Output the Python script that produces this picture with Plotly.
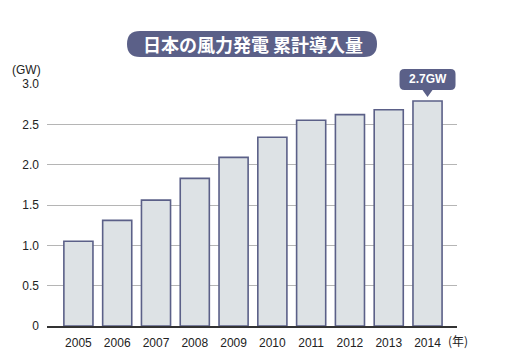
import plotly.graph_objects as go

years = ["2005", "2006", "2007", "2008", "2009", "2010", "2011", "2012", "2013", "2014"]
capacity_gw = [1.05, 1.31, 1.56, 1.83, 2.09, 2.34, 2.55, 2.62, 2.68, 2.79]
ytick_vals = [0, 0.5, 1.0, 1.5, 2.0, 2.5, 3.0]
ytick_text = ["0", "0.5", "1.0", "1.5", "2.0", "2.5", "3.0"]
title_text = "日本の風力発電 累計導入量"
callout_text = "2.7GW"

W, H = 505, 353
L, R, T, B = 47, 48, 84, 27
PW, PH = W - L - R, H - T - B
XR = [-0.81, len(years) - 1 + 0.76]
YR = [0, 3.0]
NAVY = "#5b6088"

def px2paper(px, py):
    return (px - L) / PW, (H - B - py) / PH

def rounded_rect(x0, y0, x1, y1, r, tip=None):
    def P(x, y):
        a, b = px2paper(x, y)
        return f"{a:.5f},{b:.5f}"
    path = f"M{P(x0 + r, y0)} L{P(x1 - r, y0)} Q{P(x1, y0)} {P(x1, y0 + r)} L{P(x1, y1 - r)} Q{P(x1, y1)} {P(x1 - r, y1)} "
    if tip is not None:
        tx, ty, hw = tip
        path += f"L{P(tx + hw, y1)} L{P(tx, ty)} L{P(tx - hw, y1)} "
    path += f"L{P(x0 + r, y1)} Q{P(x0, y1)} {P(x0, y1 - r)} L{P(x0, y0 + r)} Q{P(x0, y0)} {P(x0 + r, y0)} Z"
    return path

x_idx = list(range(len(years)))

fig = go.Figure()
fig.add_trace(go.Bar(
    x=x_idx, y=capacity_gw, width=0.75,
    marker=dict(color="#dde2e5", line=dict(color=NAVY, width=1.6)),
    hoverinfo="skip",
))

last_i = len(years) - 1
cx_px = L + (last_i - XR[0]) / (XR[1] - XR[0]) * PW
top_px = H - B - capacity_gw[-1] / YR[1] * PH
pill_b = top_px - 11
pill_t = pill_b - 21
shapes = [
    dict(type="path", xref="paper", yref="paper",
         path=rounded_rect(127, 31, 377, 57, 13), fillcolor=NAVY, line=dict(width=0), layer="above"),
    dict(type="path", xref="paper", yref="paper",
         path=rounded_rect(cx_px - 28, pill_t, cx_px + 28, pill_b, 5, tip=(cx_px, top_px - 4, 5)),
         fillcolor=NAVY, line=dict(width=0), layer="above"),
]

cxp, cyp = px2paper(cx_px, (pill_t + pill_b) / 2)
tx, ty = px2paper(253, 44)
gx, gy = px2paper(43, 70)
nx, ny = px2paper(446, 340)

annotations = [
    dict(text=f"<b>{title_text}</b>", x=tx, y=ty, xref="paper", yref="paper", showarrow=False,
         font=dict(family="Noto Sans CJK JP", size=18, color="white"), xanchor="center", yanchor="middle"),
    dict(text=f"<b>{callout_text}</b>", x=cxp, y=cyp, xref="paper", yref="paper", showarrow=False,
         font=dict(family="Liberation Sans, Arial", size=12, color="white"), xanchor="center", yanchor="middle"),
    dict(text="(GW)", x=gx, y=gy, xref="paper", yref="paper", showarrow=False,
         font=dict(family="Liberation Sans, Arial", size=12, color="#222"), xanchor="right", yanchor="middle"),
    dict(text="(年)", x=nx, y=ny, xref="paper", yref="paper", showarrow=False,
         font=dict(family="Noto Sans CJK JP", size=12, color="#222"), xanchor="left", yanchor="middle"),
]

fig.update_layout(
    width=W, height=H, margin=dict(l=L, r=R, t=T, b=B),
    paper_bgcolor="white", plot_bgcolor="white", showlegend=False,
    shapes=shapes, annotations=annotations,
    xaxis=dict(range=XR, tickvals=x_idx, ticktext=years, showgrid=False, zeroline=False,
               showline=True, linecolor="#333", linewidth=2, ticks="", automargin=False,
               ticklabelstandoff=5,
               tickfont=dict(family="Liberation Sans, Arial", size=12, color="#222")),
    yaxis=dict(range=YR, tickvals=ytick_vals, ticktext=ytick_text, showgrid=True,
               gridcolor="#b5b5b5", gridwidth=1, zeroline=False, showline=False, ticks="",
               automargin=False, ticklabelstandoff=7,
               tickfont=dict(family="Liberation Sans, Arial", size=12, color="#222")),
    bargap=0.25,
)

fig.write_html("out.html")
